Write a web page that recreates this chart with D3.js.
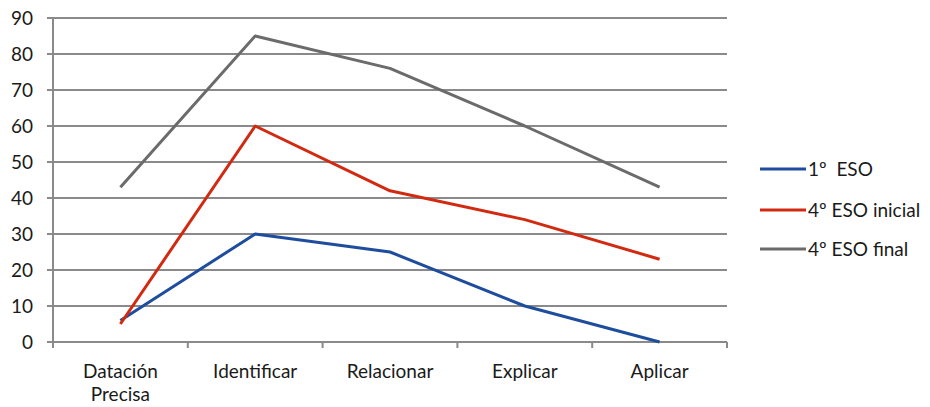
<!DOCTYPE html>
<html><head><meta charset="utf-8">
<script src="https://cdn.jsdelivr.net/npm/d3@7/dist/d3.min.js"></script>
<style>body{margin:0;background:#fff}svg{display:block}text{font-family:Lato,"Open Sans",sans-serif;fill:#1a1a1a}</style>
</head><body><svg id="c" width="930" height="407"></svg>
<script>
const categories = ["Datación\nPrecisa","Identificar","Relacionar","Explicar","Aplicar"];
const seriesNames = ["1º  ESO","4º ESO inicial","4º ESO final"];
const eso1 = [6,30,25,10,0];
const eso4ini = [5,60,42,34,23];
const eso4fin = [43,85,76,60,43];
const yTicks = [0,10,20,30,40,50,60,70,80,90];
const colors = ["#1f4d9e","#d12a10","#6b6b6b"];
const series = [eso1, eso4ini, eso4fin];

const svg = d3.select("#c");
const L=53, R=727, T=18, B=342;
const x = d3.scaleBand().domain(categories).range([L,R]);
const y = d3.scaleLinear().domain([0,90]).range([B,T]);

svg.append("g").selectAll("line").data(yTicks).join("line")
  .attr("x1",L-6).attr("x2",R).attr("y1",d=>y(d)).attr("y2",d=>y(d))
  .attr("stroke","#8a8a8a").attr("stroke-width",2);
svg.append("line").attr("x1",L).attr("x2",L).attr("y1",T).attr("y2",B+1)
  .attr("stroke","#8a8a8a").attr("stroke-width",2);
svg.append("g").selectAll("text").data(yTicks).join("text")
  .attr("x",33).attr("y",d=>y(d)).attr("dy","0.36em").attr("text-anchor","end")
  .attr("font-size",19).text(d=>d);
const bounds = categories.map(c=>x(c)).concat([R]);
svg.append("g").selectAll("line").data(bounds).join("line")
  .attr("x1",d=>d).attr("x2",d=>d).attr("y1",B).attr("y2",B+6)
  .attr("stroke","#8a8a8a").attr("stroke-width",2);
const xl = svg.append("g").selectAll("text").data(categories).join("text")
  .attr("x",d=>x(d)+x.bandwidth()/2).attr("y",378).attr("text-anchor","middle").attr("font-size",19);
xl.each(function(d){
  const parts=d.split("\n");
  d3.select(this).selectAll("tspan").data(parts).join("tspan")
    .attr("x",x(d)+x.bandwidth()/2).attr("dy",(p,i)=>i?23:0).text(p=>p);
});
const cx = c=>x(c)+x.bandwidth()/2;
const line = d3.line().x((v,i)=>cx(categories[i])).y(v=>y(v));
series.forEach((s,k)=>{
  svg.append("path").datum(s).attr("d",line).attr("fill","none")
    .attr("stroke",colors[k]).attr("stroke-width",3).attr("stroke-linejoin","round");
});
const ly=[169,210,249];
seriesNames.forEach((n,k)=>{
  svg.append("line").attr("x1",760).attr("x2",806).attr("y1",ly[k]).attr("y2",ly[k])
    .attr("stroke",colors[k]).attr("stroke-width",3);
  svg.append("text").attr("x",808).attr("y",ly[k]).attr("dy","0.36em")
    .attr("font-size",19).style("white-space","pre").text(n);
});
</script></body></html>
